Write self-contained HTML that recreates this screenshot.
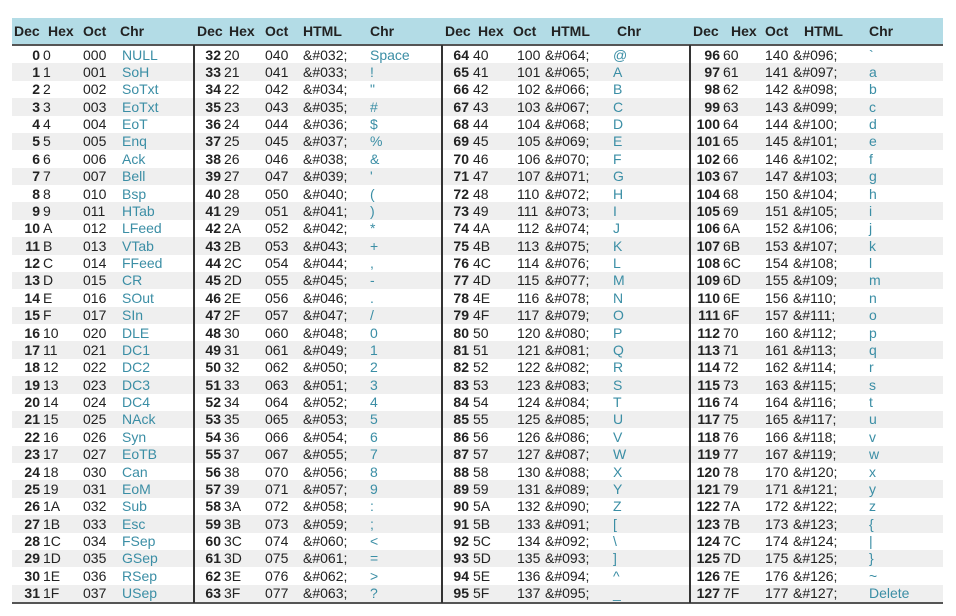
<!DOCTYPE html>
<html><head><meta charset="utf-8"><style>
body{margin:0;width:956px;height:616px;background:#fff;overflow:hidden;font-family:"Liberation Sans",sans-serif;}
#t{position:absolute;left:0;top:0;width:956px;height:616px;}
.c{position:absolute;font-size:14px;color:#222;white-space:pre;line-height:17px;}
.h{font-weight:bold;color:#222;font-size:14px;}
.b{font-weight:bold;}
.ch{color:#3b8ea5;}
.r{text-align:right;}
</style></head><body>
<div id="t"></div>
<script>
const ctrl=["NULL","SoH","SoTxt","EoTxt","EoT","Enq","Ack","Bell","Bsp","HTab","LFeed","VTab","FFeed","CR","SOut","SIn","DLE","DC1","DC2","DC3","DC4","NAck","Syn","EoTB","Can","EoM","Sub","Esc","FSep","GSep","RSep","USep"];
const t=document.getElementById('t');
function add(txt,x,y,cls,name,w){const d=document.createElement('div');d.className='c '+cls;d.textContent=txt;d.style.left=x+'px';d.style.top=y+'px';if(w){d.style.width=w+'px';}


t.appendChild(d);return d;}
function box(x,y,w,h,bg,name){const d=document.createElement('div');d.style.cssText='position:absolute;left:'+x+'px;top:'+y+'px;width:'+w+'px;height:'+h+'px;background:'+bg;


t.appendChild(d);}
const top0=46,rh=17.375;
box(12,18,931,27,'#b3dce6','header-band');
for(let i=0;i<32;i++){if(i%2==1)box(12,top0+i*rh,931,rh,'#efefef','row-stripe');}
box(12,44,931,2,'#555','header-rule');
box(12,602,931,2,'#555','bottom-rule');
[193,441,689].forEach(x=>box(x,45,1.5,558,'#333','group-divider'));
const hdr=[[["Dec",14],["Hex",48],["Oct",83],["Chr",120]],
[["Dec",197],["Hex",229],["Oct",265],["HTML",303],["Chr",370]],
[["Dec",445],["Hex",478],["Oct",513],["HTML",551],["Chr",617]],
[["Dec",693],["Hex",731],["Oct",765],["HTML",804],["Chr",869]]];
hdr.forEach(g=>g.forEach(([s,x])=>add(s,x,23,'h','column-header')));
const cols=[[40,43,83,null,122],[221,224,265,303,370],[469,473,517,545,613],[720,723,765,793,869]];
for(let g=0;g<4;g++){for(let i=0;i<32;i++){const n=g*32+i,y=top0+i*rh+0.5,c=cols[g];
add(String(n),c[0]-40,y,'b r','dec-value',40);
add(n.toString(16).toUpperCase(),c[1],y,'','hex-value');
add(n.toString(8).padStart(3,'0'),c[2],y,'','oct-value');
if(c[3]!==null)add('&#'+String(n).padStart(3,'0')+';',c[3],y,'','html-entity');
let ch=g==0?ctrl[i]:(n==32?'Space':n==127?'Delete':String.fromCharCode(n));
add(ch,c[4],y,'ch','char-value');}}
</script>
</body></html>
